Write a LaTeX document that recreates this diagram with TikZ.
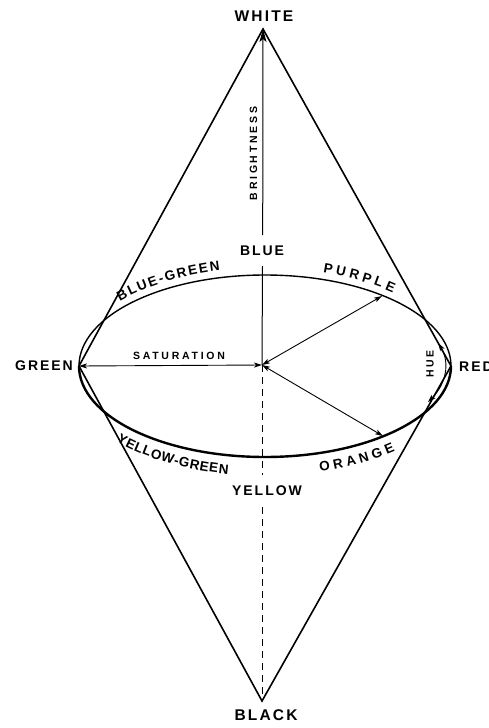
\documentclass[tikz,border=0pt]{standalone}
\usepackage{fontspec}
\setmainfont{Liberation Sans}
\newfontfamily\labfont[LetterSpace=14]{Liberation Sans Bold}
\newfontfamily\smallfont[LetterSpace=26]{Liberation Sans Bold}
\newfontfamily\curvefont{Liberation Sans Bold}
\usetikzlibrary{arrows.meta,decorations.text}
\begin{document}
\begin{tikzpicture}[x=1pt,y=1pt,
  big/.style={font=\fontsize{14}{14}\selectfont\labfont, inner sep=0pt},
  huge/.style={font=\fontsize{15.5}{15.5}\selectfont\labfont, inner sep=0pt},
  small/.style={font=\fontsize{10.5}{10.5}\selectfont\smallfont, inner sep=0pt},
  cone/.style={line width=1.6pt},
  axis/.style={line width=1pt},
  dashaxis/.style={line width=1pt, dash pattern=on 7pt off 5pt},
  arr/.style={line width=0.9pt, {Stealth[length=8pt,width=5pt,inset=2pt]}-{Stealth[length=8pt,width=5pt,inset=2pt]}},
  curvetext/.style={decorate, decoration={text along path,
     text={|\fontsize{13.5}{13.5}\selectfont\curvefont|#1},
     text align={fit to path}}}
]
\fill[white] (0,0) rectangle (489,-728);
\useasboundingbox (0,0) rectangle (489,-728);

% key points
\coordinate (W) at (263,-29);
\coordinate (K) at (262,-701);
\coordinate (O) at (262,-365);
\coordinate (C) at (265,-366);
\coordinate (G) at (79,-366);
\coordinate (R) at (451,-366);
\coordinate (Ptip) at (382,-296);
\coordinate (Otip) at (383,-436);
\coordinate (ax1) at (262.7,-235);
\coordinate (ax2) at (262.5,-266);
\coordinate (ax3) at (262,-475);
\coordinate (ax4) at (262,-507);

% cones
\draw[cone] (G) -- (W) -- (R) -- (K) -- cycle;

% ellipse: back half thin, front half thick
\draw[line width=1.4pt] (R) arc[start angle=0,end angle=180,x radius=186,y radius=91];
\draw[line width=2.4pt] (G) arc[start angle=180,end angle=360,x radius=186,y radius=91];

% brightness axis
\draw[axis, -{Stealth[length=13pt,width=7pt,inset=3pt]}] (ax1) -- (W);
\draw[axis] (ax2) -- (O);
\draw[dashaxis] (O) -- (ax3);
\draw[dashaxis] (ax4) -- (K);

% saturation and radial arrows
\draw[arr] (O) -- (G);
\draw[arr] (O) -- (Ptip);
\draw[arr] (O) -- (Otip);

% hue arrow
\draw[arr] (C) ++(15.7:180 and 85) arc[start angle=15.7,end angle=-25.1,x radius=180,y radius=85];

% straight labels
\node[huge] (white) at (264,-16) {WHITE};
\node[huge] (black) at (266,-715) {BLACK};
\node[big] (green) at (44,-366) {GREEN};
\node[big, anchor=west] (red) at (459,-367) {RED};
\node[big] (blue) at (262,-250.5) {BLUE};
\node[big] (yellow) at (267,-491) {YELLOW};
\node[small] (sat) at (179,-355.5) {SATURATION};
\node[small, rotate=90] (bright) at (253.5,-153.5) {BRIGHTNESS};
\node[small, rotate=90] (hue) at (430,-364) {HUE};

% curved labels
\path[curvetext=BLUE-GREEN] (C) ++(138.7:193 and 98) arc[start angle=138.7,end angle=103.5,x radius=193,y radius=98];
\path[curvetext=PURPLE] (C) ++(72.5:193 and 98) arc[start angle=72.5,end angle=48.5,x radius=193,y radius=98];
\path[curvetext=YELLOW-GREEN] (C) ++(-136.5:205 and 110) arc[start angle=-136.5,end angle=-100.4,x radius=205,y radius=110];
\path[curvetext=ORANGE] (C) ++(-74.4:205 and 110) arc[start angle=-74.4,end angle=-50.6,x radius=205,y radius=110];
\end{tikzpicture}
\end{document}
